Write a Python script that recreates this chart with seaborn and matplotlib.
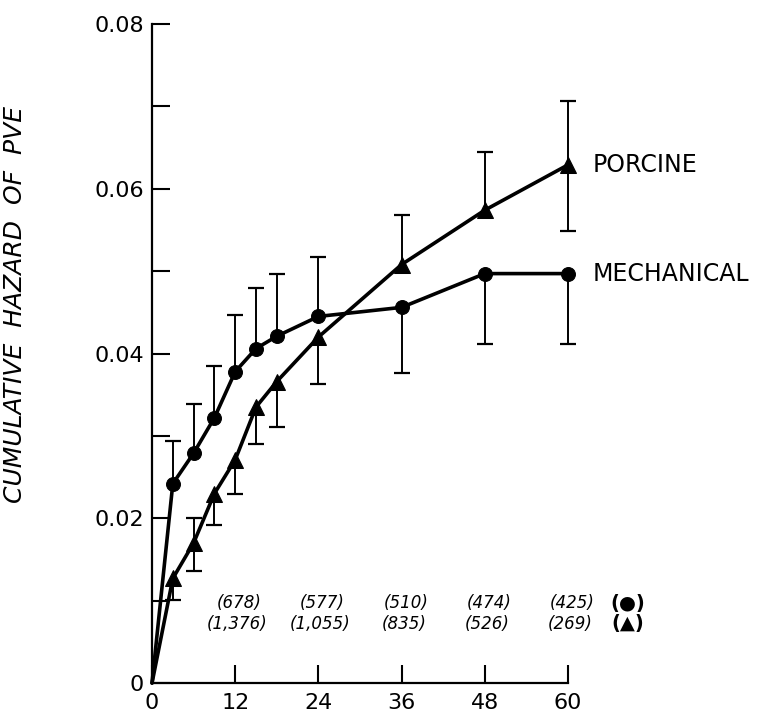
import numpy as np
import matplotlib
matplotlib.use("Agg")
import matplotlib.pyplot as plt
import seaborn as sns

# months after valve replacement
MONTHS = [0, 3, 6, 9, 12, 15, 18, 24, 36, 48, 60]

# mechanical valves (circles)
MECH = [0, 0.0242, 0.0279, 0.0322, 0.0378, 0.0406, 0.0421, 0.0445, 0.0456, 0.0497, 0.0497]
MECH_HI = [np.nan, 0.0294, 0.0339, 0.0385, 0.0447, 0.0479, 0.0496, 0.0517, np.nan, np.nan, np.nan]
MECH_LO = [np.nan, np.nan, np.nan, np.nan, np.nan, np.nan, np.nan, np.nan, 0.0376, 0.0411, 0.0411]

# porcine valves (triangles)
PORC = [0, 0.0127, 0.0170, 0.0230, 0.0271, 0.0335, 0.0366, 0.0420, 0.0508, 0.0574, 0.0629]
PORC_HI = [np.nan, np.nan, 0.0200, np.nan, np.nan, np.nan, np.nan, np.nan, 0.0568, 0.0644, 0.0707]
PORC_LO = [np.nan, 0.0101, 0.0136, 0.0192, 0.0229, 0.0290, 0.0311, 0.0363, np.nan, np.nan, 0.0549]

# numbers at risk
RISK_MONTHS = [12, 24, 36, 48, 60]
MECH_RISK = [678, 577, 510, 474, 425]
PORC_RISK = [1376, 1055, 835, 526, 269]

XTICKS = [0, 12, 24, 36, 48, 60]
YTICKS = [0, 0.02, 0.04, 0.06, 0.08]
YTICK_LABELS = ["0", "0.02", "0.04", "0.06", "0.08"]

sns.set_style("ticks")
plt.rcParams["font.family"] = ["DejaVu Sans"]
plt.rcParams.update({"text.color": "black", "axes.labelcolor": "black",
                     "xtick.color": "black", "ytick.color": "black",
                     "axes.edgecolor": "black"})

fig = plt.figure(figsize=(7.62, 7.18), dpi=100)
ax = fig.add_axes([0.1995, 0.0487, 0.5459, 0.9179])


def error_bars(x, y, lo, hi):
    x = np.asarray(x, float)
    y = np.asarray(y, float)
    lo = np.asarray(lo, float)
    hi = np.asarray(hi, float)
    bottom = np.where(np.isnan(lo), y, lo)
    top = np.where(np.isnan(hi), y, hi)
    keep = top > bottom
    ax.vlines(x[keep], bottom[keep], top[keep], color="black", lw=1.4,
              zorder=2, clip_on=False)
    for b in (lo, hi):
        m = ~np.isnan(b)
        ax.plot(x[m], b[m], ls="none", marker="_", ms=11, mew=1.6,
                color="black", zorder=2, clip_on=False)


error_bars(MONTHS, MECH, MECH_LO, MECH_HI)
error_bars(MONTHS, PORC, PORC_LO, PORC_HI)

# no symbol at the origin
skip0 = list(range(1, len(MONTHS)))
sns.lineplot(x=MONTHS, y=MECH, ax=ax, color="black", lw=2.6, marker="o",
             ms=10, mec="black", markevery=skip0, zorder=3, clip_on=False)
sns.lineplot(x=MONTHS, y=PORC, ax=ax, color="black", lw=2.6, marker="^",
             ms=12, mec="black", markevery=skip0, zorder=3, clip_on=False)

ax.text(63.5, PORC[-1], "PORCINE", fontsize=17, va="center", ha="left")
ax.text(63.5, MECH[-1], "MECHANICAL", fontsize=17, va="center", ha="left")

# numbers at risk
for m, a, b in zip(RISK_MONTHS, MECH_RISK, PORC_RISK):
    ax.text(m + 0.6, 0.0097, f"({a:,})", style="italic", fontsize=12,
            ha="center", va="center")
    ax.text(m + 0.3, 0.0072, f"({b:,})", style="italic", fontsize=12,
            ha="center", va="center")
ax.text(68.6, 0.0097, "(●)", fontsize=14, fontweight="bold",
        ha="center", va="center")
ax.text(68.6, 0.0072, "(▲)", fontsize=14, fontweight="bold",
        ha="center", va="center")

ax.set_xlim(0, 60)
ax.set_ylim(0, 0.08)
ax.set_xticks(XTICKS)
ax.set_yticks(YTICKS)
ax.set_yticklabels(YTICK_LABELS)
ax.set_yticks(np.arange(0.01, 0.08, 0.02), minor=True)
ax.tick_params(axis="both", which="both", direction="in", length=13,
               width=1.5, labelsize=16, color="black")
ax.tick_params(axis="y", pad=6)
ax.tick_params(axis="x", pad=7)
for s in ("left", "bottom"):
    ax.spines[s].set_linewidth(1.6)
sns.despine(ax=ax)

ax.set_xlabel("")
ax.set_ylabel("CUMULATIVE  HAZARD  OF  PVE", fontsize=18, style="italic",
              family=["Liberation Sans Narrow", "DejaVu Sans"])
ax.yaxis.set_label_coords(-0.30, 0.575)

fig.savefig("out.png", dpi=100)
